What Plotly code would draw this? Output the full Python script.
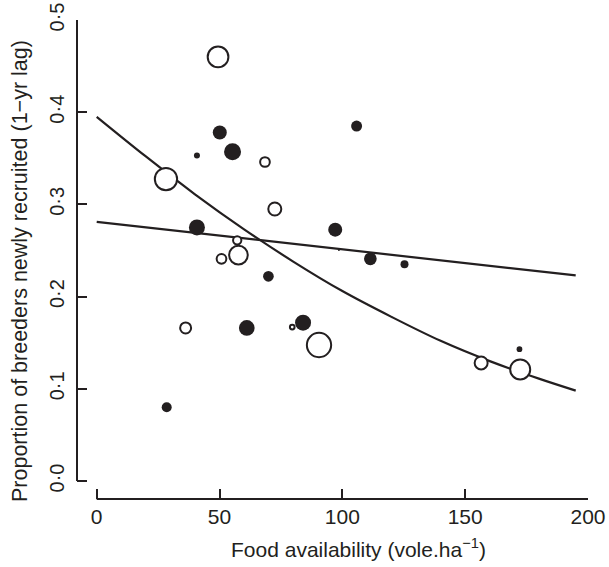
import plotly.graph_objects as go

# ---- data ----
open_x = [49.4, 68.5, 28.2, 72.5, 57.2, 50.8, 57.7, 36.2, 79.6, 90.5, 156.5, 172.4, 200.1]
open_y = [0.460, 0.346, 0.3275, 0.295, 0.261, 0.241, 0.245, 0.166, 0.167, 0.1475, 0.128, 0.121, 0.1175]
open_w = [22.7, 11.7, 24.3, 15.0, 10.3, 11.7, 20.7, 13.0, 6.7, 26.3, 15.0, 22.0, 9.3]

filled_x = [50.1, 40.8, 55.3, 40.8, 69.9, 105.8, 97.1, 98.6, 111.4, 125.3, 61.1, 28.5, 84.0, 172.1]
filled_y = [0.378, 0.353, 0.357, 0.275, 0.222, 0.385, 0.2726, 0.2505, 0.241, 0.235, 0.166, 0.080, 0.1717, 0.143]
filled_w = [14.0, 6.0, 17.0, 16.0, 10.7, 11.0, 14.0, 2.0, 12.7, 8.0, 15.7, 10.0, 16.0, 5.7]

curve_x = [0, 20, 40, 60, 80, 100, 120, 140, 160, 180, 195]
curve_y = [0.395, 0.352, 0.311, 0.273, 0.238, 0.206, 0.178, 0.152, 0.130, 0.111, 0.098]

flat_x = [0, 100, 195]
flat_y = [0.281, 0.251, 0.223]

x_ticks = [0, 50, 100, 150, 200]
x_ticktext = ["0", "50", "100", "150", "200"]
y_ticks = [0.0, 0.1, 0.2, 0.3, 0.4, 0.5]
y_ticktext = ["0·0", "0·1", "0·2", "0·3", "0·4", "0·5"]

x_title = "Food availability (vole.ha<sup>−1</sup>)"
y_title = "Proportion of breeders newly recruited (1−yr lag)"

# ---- styling ----
INK = "#231f20"
FONT = "Liberation Sans, Arial, sans-serif"
W, H = 609, 567
ML, MR, MT, MB = 77, 21, 20, 68
PW, PH = W - ML - MR, H - MT - MB

X0_PX, X200_PX = 96.7, W - MR          # pixel of x=0 and x=200
Y0_PX, Y05_PX = 481.0, MT              # pixel of y=0 and y=0.5
x_lo = -200 * (X0_PX - ML) / (X200_PX - X0_PX)
y_lo = -0.5 * ((H - MB) - Y0_PX) / (Y0_PX - Y05_PX)


def px_x(p):
    return (p - ML) / PW


def px_y(p):
    return (H - MB - p) / PH


fig = go.Figure()

fig.add_trace(go.Scatter(x=flat_x, y=flat_y, mode="lines",
                         line=dict(color=INK, width=2.2), cliponaxis=False,
                         hoverinfo="skip", showlegend=False))
fig.add_trace(go.Scatter(x=curve_x, y=curve_y, mode="lines",
                         line=dict(color=INK, width=2.2, shape="spline"),
                         cliponaxis=False, hoverinfo="skip", showlegend=False))

fig.add_trace(go.Scatter(x=open_x, y=open_y, mode="markers", cliponaxis=False,
                         marker=dict(size=[w - 2 for w in open_w], sizemode="diameter",
                                     color="white", symbol="circle", opacity=1,
                                     line=dict(color=INK, width=2)),
                         showlegend=False))
fig.add_trace(go.Scatter(x=filled_x, y=filled_y, mode="markers", cliponaxis=False,
                         marker=dict(size=filled_w, sizemode="diameter",
                                     color=INK, symbol="circle", opacity=1,
                                     line=dict(width=0)),
                         showlegend=False))

fig.update_layout(
    width=W, height=H,
    margin=dict(l=ML, r=MR, t=MT, b=MB, autoexpand=False),
    plot_bgcolor="white", paper_bgcolor="white",
    font=dict(family=FONT, color=INK, size=21),
    showlegend=False,
    xaxis=dict(range=[x_lo, 200],
               showgrid=False, zeroline=False, showline=False,
               ticks="inside", ticklen=10, tickwidth=2, tickcolor=INK,
               tickvals=x_ticks, ticktext=x_ticktext, ticklabelstandoff=3,
               tickfont=dict(size=21, color=INK), automargin=False),
    yaxis=dict(range=[y_lo, 0.5],
               showgrid=False, zeroline=False, showline=False,
               ticks="inside", ticklen=10, tickwidth=2, tickcolor=INK,
               tickvals=y_ticks, ticktext=y_ticktext, tickangle=-90, ticklabelstandoff=8,
               tickfont=dict(size=20, color=INK), automargin=False),
)

# offset axis lines spanning exactly the axis ranges (R-style detached axes)
fig.add_shape(type="line", xref="x", yref="paper", x0=x_ticks[0], x1=x_ticks[-1], y0=0, y1=0,
              line=dict(color=INK, width=2), layer="above")
fig.add_shape(type="line", xref="paper", yref="y", x0=0, x1=0, y0=y_ticks[0], y1=y_ticks[-1],
              line=dict(color=INK, width=2), layer="above")

fig.add_annotation(text=x_title, xref="paper", yref="paper",
                   x=px_x(358), y=px_y(548), xanchor="center", yanchor="middle",
                   showarrow=False, font=dict(size=21, color=INK, family=FONT))
fig.add_annotation(text=y_title, xref="paper", yref="paper", textangle=-90,
                   x=px_x(20), y=px_y(271), xanchor="center", yanchor="middle",
                   showarrow=False, font=dict(size=21.5, color=INK, family=FONT))

fig.write_html("out.html", config={"displayModeBar": False},
               post_script="document.body.style.margin='0';document.body.style.overflow='hidden';")
